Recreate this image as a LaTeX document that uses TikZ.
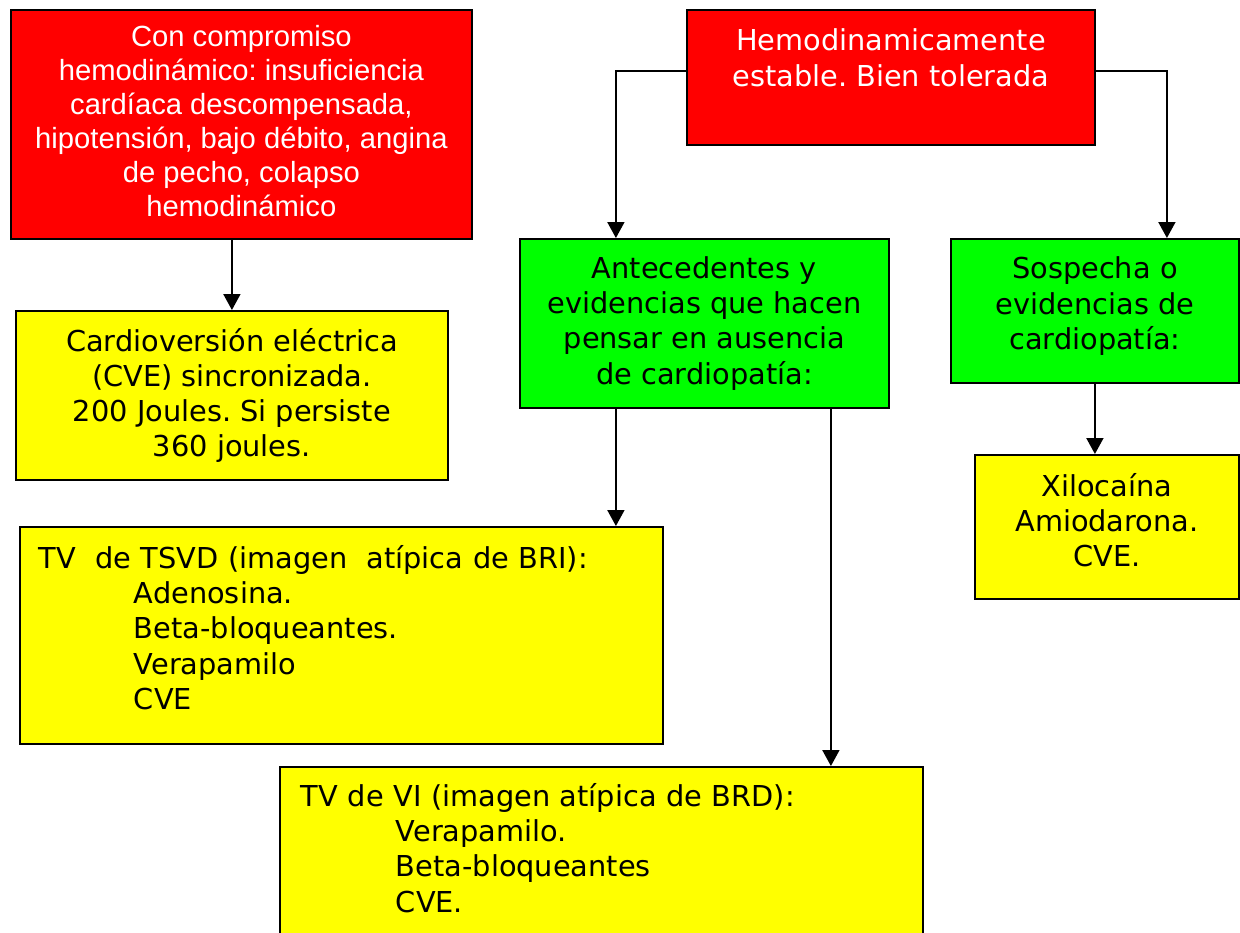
\documentclass[tikz,border=0pt]{standalone}
\usepackage{fontspec}
\setmainfont{DejaVu Sans}
\newfontfamily\arialfont{Liberation Sans}
\usetikzlibrary{arrows.meta}
\frenchspacing
\newcommand{\pad}[1]{\rule[-#1]{0pt}{#1}}
\definecolor{boxyellow}{RGB}{255,255,0}
\tikzset{
	>={Triangle[length=8pt,width=8.5pt]},
	box/.style={draw=black, line width=0.9pt, anchor=north west, align=center, inner sep=0pt, font=\fontsize{14.4}{17.6}\selectfont},
	redbox/.style={box, fill=red, text=white},
	greenbox/.style={box, fill=green},
	yellowbox/.style={box, fill=boxyellow},
	flow/.style={->, line width=0.9pt}
}
\begin{document}
\begin{tikzpicture}[x=0.5pt, y=-0.5pt]
	\useasboundingbox (0,0) rectangle (1240,932);
	\clip (0,0) rectangle (1240,932);
	% red boxes
	\node[redbox, minimum width=230.5pt, minimum height=114.5pt, font=\arialfont\fontsize{14.6}{17}\selectfont] (compromiso) at (10,9) {Con compromiso\\hemodinámico: insuficiencia\\cardíaca descompensada,\\hipotensión, bajo débito, angina\\de pecho, colapso\\hemodinámico\pad{3pt}};
	\node[redbox, minimum width=204pt, minimum height=67.5pt] (estable) at (686,9) {Hemodinamicamente\\estable. Bien tolerada\pad{19.8pt}};
	% green boxes
	\node[greenbox, minimum width=184.5pt, minimum height=84.5pt] (ausencia) at (519,238) {Antecedentes y\\evidencias que hacen\\pensar en ausencia\\de cardiopatía:};
	\node[greenbox, minimum width=144pt, minimum height=72pt] (sospecha) at (950,238) {Sospecha o\\evidencias de\\cardiopatía:\pad{7.7pt}};
	% yellow boxes
	\node[yellowbox, minimum width=216pt, minimum height=84.5pt] (cve) at (15,310) {Cardioversión eléctrica\\(CVE) sincronizada.\\200 Joules. Si persiste\\360 joules.};
	\node[yellowbox, minimum width=132pt, minimum height=72pt] (xilo) at (974,454) {Xilocaína\\Amiodarona.\\CVE.\pad{6.7pt}};
	\node[yellowbox, align=left, text width=302.5pt, minimum width=321.5pt, minimum height=108.5pt] (tsvd) at (19,526) {TV\ \ de TSVD (imagen\ \ atípica de BRI):\\\hspace*{47.5pt}Adenosina.\\\hspace*{47.5pt}Beta-bloqueantes.\\\hspace*{47.5pt}Verapamilo\\\hspace*{47.5pt}CVE\pad{8pt}};
	\node[yellowbox, align=left, text width=300.5pt, minimum width=321.5pt, minimum height=90pt] (vi) at (279,766) {TV de VI (imagen atípica de BRD):\\\hspace*{47.5pt}Verapamilo.\\\hspace*{47.5pt}Beta-bloqueantes\\\hspace*{47.5pt}CVE.\pad{9.1pt}};
	% arrows
	\draw[flow] (cve.north |- compromiso.south) -- (cve.north);
	\draw[flow] ([yshift=3.25pt]estable.west) -| ([xshift=-44.25pt]ausencia.north);
	\draw[flow] ([yshift=3.25pt]estable.east) -| ([xshift=36pt]sospecha.north);
	\draw[flow] ([xshift=-44.25pt]ausencia.south) -- ([xshift=-44.25pt]ausencia.south |- tsvd.north);
	\draw[flow] ([xshift=63.25pt]ausencia.south) -- ([xshift=63.25pt]ausencia.south |- vi.north);
	\draw[flow] (sospecha.south) -- (sospecha.south |- xilo.north);
\end{tikzpicture}
\end{document}
